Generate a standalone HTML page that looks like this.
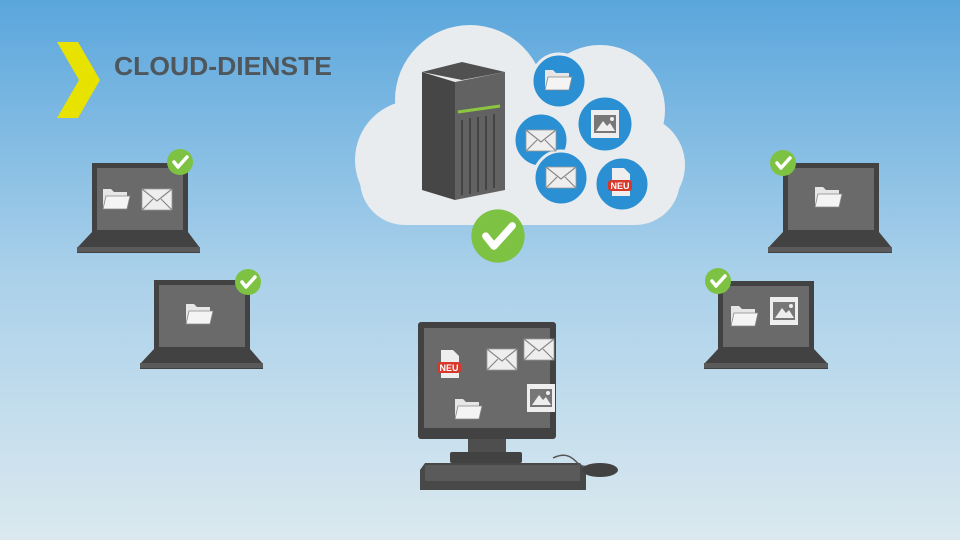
<!DOCTYPE html>
<html><head><meta charset="utf-8"><style>
html,body{margin:0;padding:0;width:960px;height:540px;overflow:hidden}
</style></head><body>
<svg width="960" height="540" viewBox="0 0 960 540" xmlns="http://www.w3.org/2000/svg" font-family="Liberation Sans, sans-serif">
<defs>
<linearGradient id="bg" x1="0" y1="0" x2="0" y2="1">
<stop offset="0" stop-color="#5aa6dc"/><stop offset="0.5" stop-color="#a9d0ea"/><stop offset="1" stop-color="#dbe9ef"/>
</linearGradient>
<g id="folder"><path d="M0 4 h8 l3 3 h13 v17 h-24z" fill="#e6e6e6"/><path d="M3 11 h24 l-3 13 h-24z" fill="#f4f4f4" stroke="#888" stroke-width="0.8"/></g>
<g id="mail"><rect x="0" y="0" width="30" height="21" fill="#eee" stroke="#999" stroke-width="0.8"/><path d="M0 0 L15 12 L30 0 M0 21 L11 10 M30 21 L19 10" fill="none" stroke="#888" stroke-width="1.2"/></g>
<g id="film"><rect x="0" y="0" width="28" height="28" fill="#eee"/><rect x="3" y="5" width="22" height="18" fill="#777"/><path d="M5 21 L12 11 L16 16 L19 13 L24 21z" fill="#eee"/><circle cx="21" cy="9" r="2" fill="#eee"/></g>
<g id="check"><circle r="13" fill="#7dc242"/><path d="M-6 0 L-2 5 L7 -5" fill="none" stroke="#fff" stroke-width="3.5" stroke-linecap="round" stroke-linejoin="round"/></g>
<g id="neu"><path d="M4 0 h12 l6 6 v22 h-18z" fill="#eee"/><rect x="0" y="12" width="24" height="11" rx="3" fill="#d8382b"/><text x="12" y="21" font-size="9" font-weight="bold" fill="#fff" text-anchor="middle">NEU</text></g>
</defs>
<rect width="960" height="540" fill="url(#bg)"/>
<!-- title -->
<path d="M57 42 H78 L100 80 L78 118 H57 L79 80z" fill="#e8e200"/>
<text x="114" y="75" font-size="26" font-weight="bold" fill="#4f565c" textLength="218" lengthAdjust="spacingAndGlyphs">CLOUD-DIENSTE</text>
<!-- cloud -->
<g fill="#e9ecee">
<circle cx="470" cy="100" r="75"/><circle cx="600" cy="110" r="65"/><circle cx="415" cy="160" r="60"/><circle cx="635" cy="165" r="50"/>
<rect x="360" y="130" width="320" height="95" rx="45"/>
</g>
<!-- server -->
<path d="M422 72 L462 62 L505 72 L462 80z" fill="#505050"/>
<path d="M422 72 L455 82 V200 L422 190z" fill="#464646"/>
<path d="M455 82 L505 72 V190 L455 200z" fill="#626262"/>
<path d="M458 112 L500 106" stroke="#8cc63f" stroke-width="3"/>
<g stroke="#444" stroke-width="2"><path d="M462 120 V195 M470 118 V194 M478 117 V192 M486 116 V190 M494 114 V188"/></g>
<!-- circles -->
<g fill="#2b8fd3" stroke="#e9ecee" stroke-width="3">
<circle cx="559" cy="81" r="27"/><circle cx="605" cy="124" r="28"/><circle cx="541" cy="140" r="27"/><circle cx="561" cy="178" r="27"/><circle cx="622" cy="184" r="27"/>
</g>
<use href="#folder" x="545" y="66"/>
<use href="#film" x="591" y="110"/>
<use href="#mail" x="526" y="130"/>
<use href="#mail" x="546" y="167"/>
<use href="#neu" x="608" y="168"/>
<use href="#check" transform="translate(498,236) scale(2.05)"/>
<!-- laptops -->
<g>
<rect x="92" y="163" width="96" height="70" fill="#424242"/><rect x="97" y="168" width="86" height="62" fill="#6a6a6a"/>
<path d="M77 248 L92 232 H188 L200 248 V253 H77z" fill="#424242"/><rect x="77" y="247" width="123" height="5" fill="#5a5a5a"/>
<use href="#folder" x="103" y="185"/><use href="#mail" x="142" y="189"/>
<use href="#check" transform="translate(180,162)"/>
</g>
<g>
<rect x="154" y="280" width="96" height="70" fill="#424242"/><rect x="159" y="285" width="86" height="62" fill="#6a6a6a"/>
<path d="M140 364 L154 349 H250 L263 364 V369 H140z" fill="#424242"/><rect x="140" y="363" width="123" height="5" fill="#5a5a5a"/>
<use href="#folder" x="186" y="300"/>
<use href="#check" transform="translate(248,282)"/>
</g>
<g>
<rect x="783" y="163" width="96" height="70" fill="#424242"/><rect x="788" y="168" width="86" height="62" fill="#6a6a6a"/>
<path d="M768 248 L783 232 H879 L892 248 V253 H768z" fill="#424242"/><rect x="768" y="247" width="124" height="5" fill="#5a5a5a"/>
<use href="#folder" x="815" y="183"/>
<use href="#check" transform="translate(783,163)"/>
</g>
<g>
<rect x="718" y="281" width="96" height="69" fill="#424242"/><rect x="723" y="286" width="86" height="61" fill="#6a6a6a"/>
<path d="M704 364 L718 349 H814 L828 364 V369 H704z" fill="#424242"/><rect x="704" y="363" width="124" height="5" fill="#5a5a5a"/>
<use href="#folder" x="731" y="302"/><use href="#film" x="770" y="297"/>
<use href="#check" transform="translate(718,281)"/>
</g>
<!-- desktop -->
<rect x="418" y="322" width="138" height="117" rx="3" fill="#424242"/>
<rect x="424" y="328" width="126" height="100" fill="#6a6a6a"/>
<rect x="468" y="439" width="38" height="15" fill="#4e4e4e"/>
<rect x="450" y="452" width="72" height="11" rx="2" fill="#424242"/>
<path d="M420 470 L425 463 H580 L586 470 V490 H420z" fill="#484848"/>
<rect x="425" y="465" width="155" height="16" fill="#5a5a5a"/>
<path d="M553 458 C570 450 575 462 580 465 S590 465 595 467" fill="none" stroke="#555" stroke-width="1.5"/>
<ellipse cx="600" cy="470" rx="18" ry="7" fill="#424242"/>
<use href="#neu" x="437" y="350"/>
<use href="#mail" x="487" y="349"/><use href="#mail" x="524" y="339"/>
<use href="#folder" x="455" y="395"/>
<use href="#film" x="527" y="384"/>
</svg>
</body></html>
